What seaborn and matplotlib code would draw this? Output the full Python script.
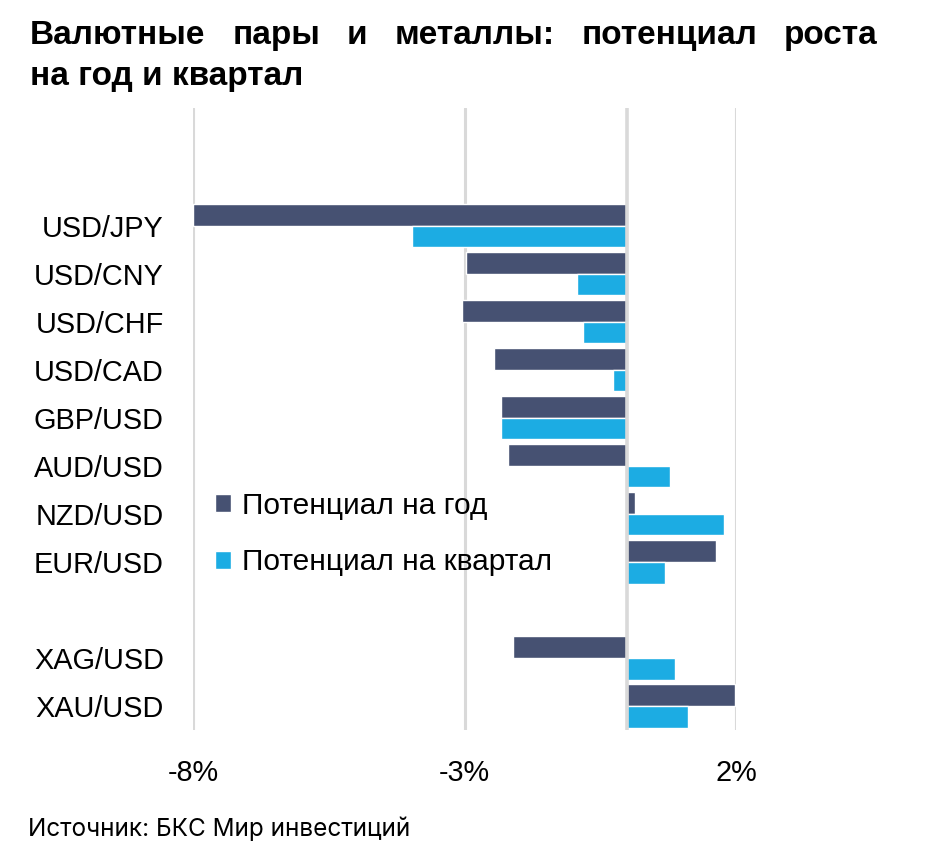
import numpy as np
import pandas as pd
import matplotlib
matplotlib.use("Agg")
import matplotlib.pyplot as plt
from matplotlib.ticker import FuncFormatter
import seaborn as sns

# ---- data (values in %) ----
pairs = ["USD/JPY", "USD/CNY", "USD/CHF", "USD/CAD", "GBP/USD", "AUD/USD",
         "NZD/USD", "EUR/USD", " ", "XAG/USD", "XAU/USD"]
year_vals = [-8.0, -2.98, -3.04, -2.45, -2.32, -2.19, 0.14, 1.63, np.nan, -2.10, 1.98]
quarter_vals = [-3.96, -0.93, -0.82, -0.26, -2.32, 0.78, 1.77, 0.70, np.nan, 0.87, 1.12]
series_names = ["Потенциал на год", "Потенциал на квартал"]
x_ticks = [-8, -3, 2]
title_line1 = "Валютные пары и металлы: потенциал роста"
title_line2 = "на год и квартал"
source_text = "Источник: БКС Мир инвестиций"

DARK = "#465172"
LIGHT = "#1CACE3"
GRID = "#D9D9D9"

df = pd.DataFrame({
    "pair": pairs + pairs,
    "series": [series_names[0]] * len(pairs) + [series_names[1]] * len(pairs),
    "value": year_vals + quarter_vals,
})

sns.set_theme(style="white")
plt.rcParams["font.family"] = ["Liberation Sans", "DejaVu Sans"]
plt.rcParams["text.color"] = "#000000"

W, H = 935, 857
fig = plt.figure(figsize=(W / 100, H / 100), dpi=100)
ax_left, ax_right, ax_top, ax_bottom = 193, 736, 108, 730
ax = fig.add_axes([ax_left / W, 1 - ax_bottom / H, (ax_right - ax_left) / W, (ax_bottom - ax_top) / H])

sns.barplot(data=df, x="value", y="pair", hue="series", order=pairs,
            hue_order=series_names, palette=[DARK, LIGHT], width=0.9,
            orient="h", errorbar=None, saturation=1, ax=ax, zorder=2)

ax.set_xlim(-8, 2)
ax.set_ylim(10.5, -2.45)
ax.set_xticks(x_ticks)
ax.xaxis.set_major_formatter(FuncFormatter(lambda v, p: f"{v:.0f}%"))
ax.grid(axis="x", color=GRID, lw=2.2, zorder=0)
ax.grid(axis="y", visible=False)
ax.set_axisbelow(True)
ax.axvline(0, color=GRID, lw=2.6, zorder=3)
for s in ax.spines.values():
    s.set_visible(False)
ax.set_xlabel("")
ax.set_ylabel("")
ax.tick_params(axis="y", length=0, pad=21, labelsize=20.8, labelcolor="#000000")
ax.tick_params(axis="x", length=0, pad=21, labelsize=20.8, labelcolor="#000000")

leg = ax.legend(loc="center left", bbox_to_anchor=(215 / W, 1 - 534 / H),
                bbox_transform=fig.transFigure, frameon=False, fontsize=21.5,
                handlelength=0.55, handleheight=0.55, handletextpad=0.35,
                labelspacing=0.95, borderpad=0, borderaxespad=0)
for t in leg.get_texts():
    t.set_color("#000000")

# ---- title, justified first line ----
fig.canvas.draw()
renderer = fig.canvas.get_renderer()
words = title_line1.split()
title_kw = dict(fontsize=24, fontweight="bold", color="#000000", va="baseline", ha="left")
x0, x1 = 30, 878
y1_base = 1 - 44 / H
texts = [fig.text(0, y1_base, w_, **title_kw) for w_ in words]
widths = [t.get_window_extent(renderer).width for t in texts]
gap = (x1 - x0 - sum(widths)) / (len(words) - 1)
x = x0
for t, wd in zip(texts, widths):
    t.set_x(x / W)
    x += wd + gap
fig.text(x0 / W, 1 - 85 / H, title_line2, **title_kw)

fig.text(28 / W, 1 - 836 / H, source_text, fontsize=17.5, color="#000000",
         ha="left", va="baseline", family=["Inter", "DejaVu Sans"])

fig.savefig("out.png", dpi=100)
